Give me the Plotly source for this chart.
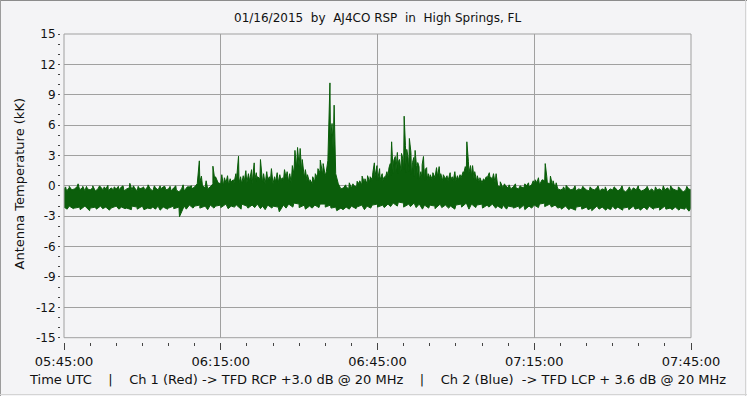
import plotly.graph_objects as go
import pandas as pd

START = pd.Timestamp("2015-01-16 05:45:00")
END = pd.Timestamp("2015-01-16 07:45:00")

# Upper edge of the dense signal band (kK), one value every 0.5 min from 05:45:00
body_top_kk = [
    -0.3, -0.5, -0.2, -0.4, -0.3, -0.1, -0.4, -0.2, -0.5, -0.3,
    -0.4, -0.2, -0.5, -0.3, -0.1, -0.4, -0.3, -0.5, -0.2, -0.4,
    -0.3, -0.4, -0.1, -0.5, -0.3, -0.2, -0.4, -0.2, -0.5, -0.3,
    -0.2, -0.4, -0.1, -0.3, -0.5, -0.2, -0.4, -0.3, -0.1, -0.4,
    -0.3, -0.5, -0.2, -0.4, -0.6, -0.3, -0.5, -0.2, -0.1, -0.3,
    -0.1, 0.2, 0.4, 0.0, -0.2, -0.3, -0.1, 0.2, 0.1, 0.3,
    0.2, 0.0, 0.3, 0.1, 0.4, 0.2, 0.5, 0.3, 0.2, 0.4,
    0.3, 0.5, 0.2, 0.6, 0.4, 0.7, 0.3, 0.2, 0.6, 0.5,
    0.2, 0.4, 0.3, 0.6, 0.5, 0.8, 0.4, 0.3, 1.2, 1.8,
    1.9, 1.3, 0.8, 0.5, 0.3, 0.2, 0.4, 0.8, 1.3, 1.1,
    1.0, 2.5, 4.5, 3.6, 1.2, 0.2, -0.3, -0.2, -0.1, -0.3,
    -0.2, 0.0, -0.1, 0.2, 0.1, 0.3, 0.2, 0.4, 0.6, 0.9,
    0.5, 0.6, 0.5, 0.8, 0.9, 1.0, 1.2, 1.4, 1.2, 1.5,
    1.6, 1.3, 1.4, 1.1, 0.9, 0.7, 0.6, 0.8, 0.5, 0.6,
    0.7, 0.6, 0.8, 0.9, 0.6, 0.5, 0.7, 0.5, 0.6, 0.5,
    0.5, 0.6, 0.8, 1.2, 1.5, 1.3, 1.0, 0.6, 0.4, 0.3,
    0.3, 0.5, 0.8, 0.9, 0.7, 0.3, 0.0, -0.1, -0.2, 0.0,
    -0.2, -0.3, -0.1, -0.2, -0.3, -0.1, -0.2, 0.0, -0.1, 0.1,
    0.2, 0.3, 0.1, 0.6, 0.5, 0.3, 0.2, 0.0, -0.2, -0.3,
    -0.4, -0.3, -0.5, -0.2, -0.4, -0.3, -0.5, -0.3, -0.4, -0.2,
    -0.4, -0.5, -0.3, -0.4, -0.2, -0.5, -0.3, -0.4, -0.6, -0.3,
    -0.4, -0.2, -0.5, -0.3, -0.4, -0.6, -0.3, -0.5, -0.2, -0.4,
    -0.3, -0.5, -0.4, -0.2, -0.5, -0.3, -0.6, -0.4, -0.3, -0.5,
    -0.4, -0.2, -0.5, -0.3, -0.4, -0.5, -0.3, -0.6, -0.4, -0.3,
    -0.4,
]

# Lower edge of the band (kK), one value per minute from 05:45:00
body_bottom_kk = [
    -2.1, -2.0, -2.2, -2.1, -2.0, -2.2, -2.1, -2.0, -2.1, -2.2,
    -2.0, -2.1, -2.2, -2.0, -2.1, -2.0, -2.2, -2.1, -2.0, -2.1,
    -2.2, -2.0, -2.1, -2.0, -1.9, -2.0, -1.9, -2.0, -1.9, -2.0,
    -1.9, -1.8, -2.0, -1.9, -1.8, -2.0, -1.9, -1.8, -2.0, -1.9,
    -2.0, -2.1, -1.9, -1.8, -1.7, -1.8, -1.9, -2.0, -1.9, -1.8,
    -1.8, -1.9, -2.1, -2.2, -2.1, -2.0, -2.1, -1.9, -2.0, -1.9,
    -1.8, -1.9, -1.8, -1.7, -1.6, -1.7, -1.8, -1.7, -1.8, -1.9,
    -1.9, -2.0, -1.8, -1.9, -2.0, -1.9, -1.8, -1.7, -1.8, -1.9,
    -1.8, -1.9, -1.8, -2.0, -1.9, -2.0, -2.1, -2.0, -1.9, -2.0,
    -1.9, -1.8, -1.7, -1.8, -1.9, -2.1, -2.0, -2.2, -2.1, -2.0,
    -2.1, -2.2, -2.0, -2.1, -2.2, -2.0, -2.1, -2.2, -2.1, -2.0,
    -2.2, -2.1, -2.0, -2.2, -2.1, -2.0, -2.2, -2.1, -2.2, -2.1,
    -2.2,
]

# Narrow upward spikes: minutes after 05:45:00 and peak (kK)
spike_minutes = [
    0.3, 1.0, 2.7, 3.6, 4.3, 5.5, 6.8, 7.7, 8.4, 9.6,
    10.4, 11.3, 12.6, 13.3, 14.2, 15.2, 16.1, 17.3, 18.4, 19.3,
    20.3, 21.4, 22.8, 23.6, 24.4, 25.9, 26.3, 27.2, 28.5, 29.0,
    29.4, 30.2, 30.7, 31.3, 31.8, 32.4, 32.9, 33.4, 33.8, 34.3,
    34.8, 35.3, 35.9, 36.4, 36.8, 37.05, 37.6, 38.2, 38.8, 39.3,
    39.7, 40.3, 40.8, 41.3, 41.8, 42.2, 42.7, 43.2, 43.7, 44.2,
    44.7, 45.2, 45.6, 46.2, 46.6, 47.1, 47.6, 48.1, 48.6, 49.05,
    49.6, 50.2, 50.9, 51.3, 51.7, 53.9, 54.6, 55.3, 56.1, 56.6,
    57.05, 57.6, 58.1, 58.6, 59.1, 59.4, 59.9, 60.4, 60.9, 61.3,
    61.8, 62.2, 62.45, 62.7, 63.1, 63.4, 63.6, 63.8, 64.0, 64.2,
    64.6, 64.85, 65.1, 65.35, 65.6, 65.85, 66.1, 66.4, 66.7, 66.95,
    67.2, 67.45, 67.7, 67.95, 68.3, 68.55, 68.8, 69.1, 69.4, 69.7,
    70.1, 70.6, 71.3, 71.8, 72.1, 72.6, 73.3, 73.9, 74.3, 74.8,
    75.3, 75.8, 76.4, 76.8, 77.1, 77.4, 77.8, 78.2, 78.6, 79.1,
    79.6, 80.3, 80.8, 81.4, 82.2, 82.7, 83.5, 84.3, 85.2, 86.4,
    87.3, 88.2, 88.9, 89.8, 90.2, 90.8, 91.4, 92.1, 92.4, 93.1,
    93.6, 94.2, 95.6, 96.1, 97.8, 99.3, 100.7, 102.2, 103.6, 105.3,
    106.8, 108.2, 109.9, 111.6, 113.2, 114.7, 116.1, 117.6, 119.2,
]
spike_kk = [
    -0.1, -0.05, 0.2, -0.05, -0.05, 0.0, 0.0, -0.1, 0.05, -0.1,
    -0.05, 0.0, 0.25, 0.0, -0.05, -0.1, 0.1, 0.0, 0.0, -0.05,
    -0.05, 0.0, 0.1, -0.1, 0.0, 2.47, 0.96, 0.5, 1.94, 0.9,
    0.45, 1.1, 0.8, 1.0, 0.7, 0.6, 1.2, 2.93, 0.9, 1.0,
    1.5, 1.2, 1.6, 2.27, 1.3, 0.9, 2.6, 1.2, 1.4, 0.9,
    1.7, 0.9, 1.3, 1.1, 0.8, 1.6, 1.4, 1.2, 2.0, 3.5,
    3.79, 3.69, 2.6, 1.6, 1.1, 0.6, 0.9, 1.2, 1.7, 2.54,
    2.2, 1.4, 10.17, 6.16, 7.97, 0.1, 0.3, 0.2, 0.45, 0.5,
    0.96, 0.7, 1.0, 0.9, 1.3, 2.27, 2.0, 1.7, 1.2, 0.9,
    1.4, 1.8, 2.2, 4.35, 2.5, 2.9, 2.1, 3.3, 2.4, 2.6,
    3.2, 2.7, 6.88, 4.0, 3.6, 2.8, 4.68, 3.3, 2.3, 2.8,
    3.5, 2.0, 2.3, 1.9, 1.4, 2.1, 2.9, 1.6, 1.8, 1.2,
    1.1, 1.3, 1.8, 1.9, 1.2, 1.1, 1.0, 1.3, 0.9, 1.4,
    1.0, 1.1, 1.4, 1.9, 4.35, 2.4, 2.0, 2.0, 1.4, 1.0,
    0.8, 0.7, 0.9, 1.3, 1.2, 1.2, 0.4, 0.2, 0.1, 0.2,
    0.0, 0.2, 0.3, 0.5, 0.6, 0.8, 0.5, 2.2, 0.9, 0.96,
    0.5, 0.3, -0.1, 0.05, 0.0, -0.05, -0.1, 0.0, -0.1, -0.1,
    0.0, -0.1, 0.0, -0.05, -0.1, 0.0, 0.0, -0.1, -0.05,
]

# Narrow downward dips: minutes after 05:45:00 and minimum (kK)
dip_minutes = [
    0.6, 1.8, 3.1, 4.9, 6.2, 7.4, 8.7, 10.5, 11.7, 12.9,
    14.0, 15.3, 16.6, 17.5, 18.4, 19.8, 21.0, 22.1, 23.4, 24.7,
    26.0, 27.5, 28.7, 30.0, 31.4, 32.6, 33.9, 35.2, 36.5, 37.6,
    38.5, 39.8, 41.2, 42.5, 43.8, 45.0, 46.2, 47.5, 48.8, 50.0,
    51.1, 52.2, 53.4, 54.6, 55.9, 57.5, 58.7, 60.0, 61.3, 62.5,
    63.8, 65.0, 66.3, 67.4, 68.6, 69.8, 71.0, 72.3, 73.6, 74.8,
    76.1, 77.5, 78.8, 80.1, 81.3, 82.6, 83.8, 84.7, 86.0, 87.2,
    88.2, 89.5, 90.8, 92.0, 93.3, 94.5, 95.2, 96.6, 97.9, 99.1,
    100.3, 101.0, 102.4, 103.7, 104.6, 105.5, 106.9, 108.1, 109.3, 110.3,
    111.6, 112.8, 114.0, 115.2, 116.4, 117.7, 118.8, 119.6,
]
dip_kk = [
    -2.3, -2.25, -2.35, -2.45, -2.3, -2.25, -2.4, -2.3, -2.25, -2.35,
    -2.3, -2.35, -2.25, -2.3, -2.4, -2.3, -2.25, -3.05, -2.3, -2.2,
    -2.2, -2.35, -2.2, -2.15, -2.25, -2.1, -2.3, -2.2, -2.15, -2.25,
    -2.35, -2.2, -2.56, -2.2, -2.1, -2.15, -2.3, -2.2, -2.15, -2.1,
    -2.2, -2.45, -2.35, -2.3, -2.25, -2.35, -2.2, -2.1, -2.15, -2.05,
    -2.0, -2.1, -2.05, -2.15, -2.3, -2.2, -2.25, -2.15, -2.2, -2.3,
    -2.1, -2.3, -2.15, -2.2, -2.1, -2.2, -2.25, -2.3, -2.2, -2.25,
    -2.35, -2.2, -2.15, -2.05, -2.1, -2.2, -2.3, -2.35, -2.4, -2.3,
    -2.35, -2.45, -2.3, -2.4, -2.35, -2.3, -2.4, -2.35, -2.3, -2.4,
    -2.35, -2.3, -2.4, -2.3, -2.35, -2.4, -2.3, -2.5,
]

x_tick_labels = ["05:45:00", "06:15:00", "06:45:00", "07:15:00", "07:45:00"]
y_tick_values = [-15, -12, -9, -6, -3, 0, 3, 6, 9, 12, 15]
y_tick_labels = ["-15", "-12", "-9", "-6", "-3", "0", "3", "6", "9", "12", "15"]

NB = "\u00a0"
TITLE = f"01/16/2015{NB*2}by{NB*2}AJ4CO RSP{NB*2}in{NB*2}High Springs, FL"
CAPTION = (f"Time UTC{NB*4}|{NB*4}Ch 1 (Red) -> TFD RCP +3.0 dB @ 20 MHz"
           f"{NB*4}|{NB*4}Ch 2 (Blue){NB*2}-> TFD LCP + 3.6 dB @ 20 MHz")
Y_TITLE = "Antenna Temperature (kK)"

GREEN = "#0b5e0b"
BG = "#f4f4f6"
GRID = "#a0a0a0"
FONT = "DejaVu Sans"

assert len(body_top_kk) == 241 and len(body_bottom_kk) == 121
assert len(spike_minutes) == len(spike_kk)
assert len(dip_minutes) == len(dip_kk)


def merge(grid_minutes, grid_vals, extra_minutes, extra_vals):
    pts = list(zip(grid_minutes, grid_vals)) + list(zip(extra_minutes, extra_vals))
    pts.sort(key=lambda p: p[0])
    xs = [START + pd.Timedelta(minutes=m) for m, _ in pts]
    ys = [v for _, v in pts]
    return xs, ys


top_minutes = [i * 0.5 for i in range(len(body_top_kk))]
bottom_minutes = [float(i) for i in range(len(body_bottom_kk))]
ux, uy = merge(top_minutes, body_top_kk, spike_minutes, spike_kk)
lx, ly = merge(bottom_minutes, body_bottom_kk, dip_minutes, dip_kk)

fig = go.Figure()
fig.add_trace(go.Scatter(x=lx, y=ly, mode="lines", line=dict(color=GREEN, width=1),
                         hoverinfo="skip", showlegend=False))
fig.add_trace(go.Scatter(x=ux, y=uy, mode="lines", line=dict(color=GREEN, width=1),
                         fill="tonexty", fillcolor=GREEN, showlegend=False))

# geometry (pixels): paper spans x 60..691, y 34..342
L, R, T, B = 60, 56, 34, 54
PW, PH = 747 - L - R, 396 - T - B


def px(x):
    return (x - L) / PW


def py(y):
    return (396 - B - y) / PH


tick_vals = [START + pd.Timedelta(minutes=30 * i) for i in range(len(x_tick_labels))]

fig.update_layout(
    width=747, height=396,
    margin=dict(l=L, r=R, t=T, b=B),
    paper_bgcolor=BG, plot_bgcolor=BG,
    font=dict(family=FONT, size=12, color="#111"),
    xaxis=dict(
        type="date", range=[START, END], domain=[px(64), 1],
        anchor="free", position=0,
        tickvals=tick_vals, ticktext=x_tick_labels,
        ticks="outside", ticklen=7, tickcolor="#444", tickwidth=1,
        showgrid=True, gridcolor=GRID, gridwidth=1,
        zeroline=False, showline=False,
        minor=dict(dtick=300000, tick0=START, ticks="outside", ticklen=3,
                   tickcolor="#444", showgrid=False),
        tickfont=dict(family=FONT, size=13, color="#111"),
    ),
    yaxis=dict(
        range=[-15, 15], domain=[py(337.7), 1],
        anchor="free", position=0,
        tickvals=y_tick_values, ticktext=y_tick_labels,
        ticks="outside", ticklen=2, tickcolor="#444",
        showgrid=True, gridcolor=GRID, gridwidth=1,
        zeroline=False, showline=False,
        minor=dict(dtick=1, tick0=0, ticks="outside", ticklen=2, tickcolor="#444", showgrid=False),
        tickfont=dict(family=FONT, size=12, color="#111"),
    ),
    shapes=[
        dict(type="rect", xref="x domain", yref="y domain", x0=0, x1=1, y0=0, y1=1,
             line=dict(color=GRID, width=1), layer="above"),
        dict(type="line", xref="paper", yref="paper", x0=px(0), x1=px(747), y0=py(0.5), y1=py(0.5),
             line=dict(color="#8c8c8c", width=1)),
        dict(type="line", xref="paper", yref="paper", x0=px(0.5), x1=px(0.5), y0=py(0), y1=py(396),
             line=dict(color="#9c9c9c", width=1)),
        dict(type="line", xref="paper", yref="paper", x0=px(0), x1=px(747), y0=py(394.5), y1=py(394.5),
             line=dict(color="#d4d4d4", width=1)),
        dict(type="line", xref="paper", yref="paper", x0=px(745.5), x1=px(745.5), y0=py(0), y1=py(396),
             line=dict(color="#d4d4d4", width=1)),
    ],
    annotations=[
        dict(text=TITLE, xref="paper", yref="paper", x=px(377), y=py(18),
             xanchor="center", yanchor="middle", showarrow=False,
             font=dict(family=FONT, size=12, color="#111")),
        dict(text=Y_TITLE, xref="paper", yref="paper", x=px(19), y=py(184.5),
             xanchor="center", yanchor="middle", showarrow=False, textangle=-90,
             font=dict(family=FONT, size=13, color="#111")),
        dict(text=CAPTION, xref="paper", yref="paper", x=px(377.5), y=py(379),
             xanchor="center", yanchor="middle", showarrow=False,
             font=dict(family=FONT, size=13, color="#111")),
    ],
)

fig.write_html(
    "out.html",
    config={"displayModeBar": False},
    post_script="document.body.style.margin='0px';document.body.style.padding='0px';",
)
